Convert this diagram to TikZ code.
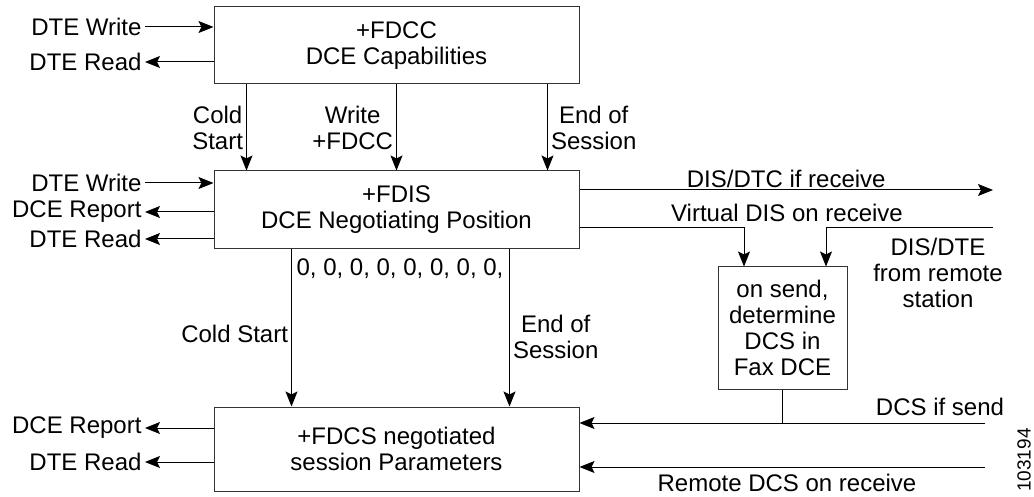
\documentclass[tikz,border=0pt]{standalone}
\usepackage{fontspec}
\setmainfont{Liberation Sans}
\usetikzlibrary{arrows.meta}

\tikzset{
  >={Stealth[length=15pt,width=12pt,inset=3pt]},
  every node/.style={font=\fontsize{24}{26}\selectfont, align=center, inner sep=3pt},
  unit/.style={draw=black!80, line width=1pt, inner sep=0pt},
}

\begin{document}
\begin{tikzpicture}[x=1pt, y=-1pt, line width=1pt]
  \useasboundingbox (0,0) rectangle (1034,497);

  % the four boxes
  \node [unit, minimum width=365pt, minimum height=77pt] at (396.5, 45.5) (cap) {+FDCC\\DCE Capabilities};
  \node [unit, minimum width=365pt, minimum height=78pt] at (396.5, 210) (neg) {+FDIS\\DCE Negotiating Position};
  \node [unit, minimum width=365pt, minimum height=84pt] at (396.5, 449) (par) {+FDCS negotiated\\session Parameters};
  \node [unit, minimum width=129pt, minimum height=122pt] at (782.5, 328) (dcs) {on send,\\determine\\DCS in\\Fax DCE};

  % DTE side
  \node [anchor=east] at (145, 27) (capw) {DTE Write};
  \node [anchor=east] at (145, 62) (capr) {DTE Read};
  \node [anchor=east] at (145, 183) (negw) {DTE Write};
  \node [anchor=east] at (145, 212) (negp) {DCE Report};
  \node [anchor=east] at (145, 239) (negr) {DTE Read};
  \node [anchor=east] at (145, 428) (parp) {DCE Report};
  \node [anchor=east] at (145, 462) (parr) {DTE Read};

  \path [->]
    (capw) edge (capw -| cap.west)
    (capr -| cap.west) edge (capr)
    (negw) edge (negw -| neg.west)
    (negp -| neg.west) edge (negp)
    (negr -| neg.west) edge (negr)
    (parp -| par.west) edge (parp)
    (parr -| par.west) edge (parr);

  % between the boxes
  \path [->]
    ([xshift=33pt]cap.south west) edge [left] node {Cold\\Start} ([xshift=33pt]neg.north west)
    ([xshift=183pt]cap.south west) edge [left] node {Write\\+FDCC} ([xshift=183pt]neg.north west)
    ([xshift=334pt]cap.south west) edge [right] node {End of\\Session} ([xshift=334pt]neg.north west)
    ([xshift=78pt]neg.south west) edge [left] node [yshift=-6pt] {Cold Start} ([xshift=78pt]par.north west)
    ([xshift=296pt]neg.south west) edge [right] node [yshift=-9pt] {End of\\Session} ([xshift=296pt]par.north west);
  \node at (400, 269) (zeros) {0, 0, 0, 0, 0, 0, 0, 0,};

  % remote side
  \coordinate (disout) at (993, 190);
  \coordinate (disin) at (993, 228);
  \coordinate (dcsin) at (985, 423);
  \coordinate (remin) at (985, 467);

  \path [->] (neg.east |- disout) edge [above] node [yshift=-1pt] {DIS/DTC if receive} (disout);
  \draw [->] ([yshift=-18pt]neg.east) -| ([xshift=-38.5pt]dcs.north);
  \draw [->] (disin) -| ([xshift=43.5pt]dcs.north);
  \draw (dcs.south) -- (dcs.south |- dcsin);
  \draw [->] (dcsin) -- (par.east |- dcsin);
  \draw [->] (remin) -- (par.east |- remin);

  \node at (787, 213) (virt) {Virtual DIS on receive};
  \node at (938, 273) (remdis) {DIS/DTE\\from remote\\station};
  \node at (940, 407) (dcssend) {DCS if send};
  \node [inner sep=1pt] at (787, 483) (remdcs) {Remote DCS on receive};
  \node [rotate=90, font=\fontsize{19}{20}\selectfont] at (1024, 460) (fignum) {103194};
\end{tikzpicture}
\end{document}
